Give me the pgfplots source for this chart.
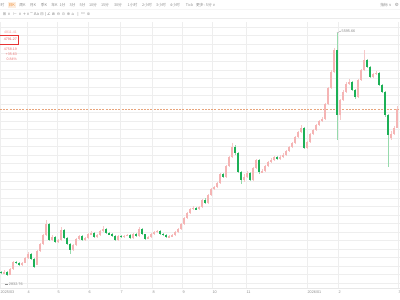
\documentclass[border=0pt]{standalone}
\usepackage{pgfplots}
\pgfplotsset{compat=1.18}
\usepackage{pgfplotstable}
\usepackage{fontspec}
\setmainfont{Liberation Sans}
\newfontfamily\cjk{Noto Sans CJK SC}
\newfontfamily\dvs{DejaVu Sans}
\definecolor{upc}{RGB}{245,180,180}
\definecolor{upw}{RGB}{246,200,200}
\definecolor{dnc}{RGB}{28,176,86}
\definecolor{dnw}{RGB}{150,218,172}
\definecolor{gridc}{RGB}{238,238,238}
\definecolor{txt}{RGB}{140,140,140}
\definecolor{ora}{RGB}{240,140,50}
\definecolor{lastc}{RGB}{232,165,125}
\definecolor{infored}{RGB}{232,90,90}
\definecolor{boxred}{RGB}{230,50,50}

\pgfplotstableread{
i O H L C
0 2880 2892 2855 2866
1 2866 2895 2858 2877
2 2877 2884 2833 2843
3 2843 2920 2838 2911
4 2911 3000 2905 2991
5 2991 3005 2972 2985
6 2985 2995 2945 2957
7 2957 2990 2950 2980
8 2980 3045 2975 3037
9 3037 3110 3030 3082
10 3082 3090 3015 3025
11 3025 3035 2920 2934
12 2960 3125 2955 3116
13 3116 3210 3100 3196
14 3196 3310 3190 3298
15 3298 3470 3290 3423
16 3423 3440 3230 3241
17 3241 3300 3225 3275
18 3275 3285 3205 3218
19 3218 3255 3210 3241
20 3241 3390 3235 3355
21 3355 3365 3250 3264
22 3264 3275 3185 3196
23 3196 3205 3080 3128
24 3128 3195 3120 3184
25 3184 3265 3175 3253
26 3253 3300 3245 3287
27 3287 3295 3230 3241
28 3241 3280 3235 3264
29 3264 3320 3255 3309
30 3309 3340 3300 3321
31 3321 3330 3265 3275
32 3275 3310 3268 3298
33 3298 3355 3290 3344
34 3344 3395 3335 3366
35 3366 3372 3310 3321
36 3321 3330 3298 3309
37 3309 3318 3278 3287
38 3287 3295 3230 3241
39 3241 3298 3235 3287
40 3287 3300 3265 3275
41 3275 3302 3268 3290
42 3290 3315 3282 3300
43 3300 3308 3255 3264
44 3264 3320 3258 3309
45 3309 3318 3278 3287
46 3287 3390 3280 3366
47 3366 3372 3300 3309
48 3309 3315 3245 3253
49 3253 3288 3248 3275
50 3275 3320 3268 3309
51 3309 3345 3300 3332
52 3332 3360 3325 3344
53 3344 3350 3300 3309
54 3309 3318 3290 3300
55 3300 3306 3268 3275
56 3275 3296 3268 3285
57 3285 3310 3278 3298
58 3298 3340 3292 3332
59 3332 3375 3325 3366
60 3366 3435 3360 3423
61 3423 3500 3415 3491
62 3491 3560 3485 3548
63 3548 3610 3540 3594
64 3594 3630 3585 3605
65 3605 3620 3578 3590
66 3590 3630 3582 3617
67 3617 3712 3610 3700
68 3700 3715 3650 3660
69 3660 3765 3655 3753
70 3753 3830 3745 3821
71 3821 3860 3810 3844
72 3844 3900 3835 3889
73 3889 4005 3880 3992
74 3992 4000 3945 3958
75 3958 4095 3950 4083
76 4083 4200 4075 4185
77 4185 4344 4175 4299
78 4299 4318 4210 4230
79 4230 4240 4000 4014
80 4014 4030 3880 3920
81 3920 3990 3905 3958
82 3958 4030 3945 4003
83 4003 4010 3910 3923
84 3923 4075 3915 4060
85 4060 4160 4050 4151
86 4151 4160 3995 4014
87 4014 4045 4000 4026
88 4026 4095 4015 4083
89 4083 4140 4070 4128
90 4128 4170 4120 4151
91 4151 4200 4140 4185
92 4185 4195 4150 4162
93 4162 4205 4155 4185
94 4185 4225 4175 4208
95 4208 4265 4200 4253
96 4253 4310 4240 4299
97 4299 4355 4290 4344
98 4344 4425 4335 4412
99 4412 4480 4400 4469
100 4469 4550 4460 4515
101 4515 4525 4275 4287
102 4287 4370 4280 4356
103 4356 4455 4345 4446
104 4446 4505 4435 4492
105 4492 4560 4480 4549
106 4549 4610 4540 4594
107 4594 4640 4585 4617
108 4617 4800 4605 4788
109 4788 4985 4780 4970
110 4970 5170 4960 5151
111 5151 5420 5140 5400
112 5400 5596 4378 4662
113 4662 4850 4600 4833
114 4833 4945 4820 4924
115 4924 5040 4910 5015
116 5015 5070 5000 5038
117 5038 5050 4930 4947
118 4947 4960 4850 4867
119 4867 5075 4860 5060
120 5060 5190 5050 5174
121 5174 5402 5165 5288
122 5288 5300 5195 5208
123 5208 5220 5080 5095
124 5095 5145 5085 5129
125 5129 5160 5118 5140
126 5140 5150 4990 5004
127 5004 5015 4910 4924
128 4924 4935 4640 4662
129 4662 4675 4071 4435
130 4400 4480 4380 4450
131 4450 4535 4440 4520
132 4520 4760 4510 4731
}\gold

\pgfplotsset{
  candle/.style 2 args={draw=none, no markers, error bars/.cd, y dir=both, y explicit, error mark=none, error bar style={draw=#1, line width=#2}},
}

\begin{document}
\begin{tikzpicture}
\useasboundingbox (0,0) rectangle (400bp,300bp);
\begin{axis}[
  at={(0bp,12bp)}, anchor=south west,
  scale only axis, width=400bp, height=266bp,
  xmin=-0.3333, xmax=133, ymin=2695.4, ymax=5719.9,
  axis line style={draw=none},
  tick style={draw=none},
  xtick={-0.3333,8.6667,18.6667,29,39.6667,50.3333,60.3333,70.3333,81.6667,102,112.3333,132.3333},
  xticklabels={2025/03,4,5,6,7,8,9,10,11,2026/01,2,3},
  ytick={2751,2848,...,5661},
  yticklabels={},
  xmajorgrids, ymajorgrids,
  grid style={gridc, line width=0.45bp},
  xticklabel style={anchor=west, inner sep=0.4bp, yshift=-4.5bp, font=\fontsize{3.8}{4}\selectfont, text=txt},
  clip mode=individual,
]
\addplot[lastc, line width=0.6bp, dash pattern=on 2bp off 1.2bp] coordinates {(-0.34,4731) (133,4731)};
% wicks
\addplot[candle={upw}{0.5bp}] table[x=i, y expr={(\thisrow{H}+\thisrow{L})/2}, y error expr={\thisrow{C}>=\thisrow{O} ? (\thisrow{H}-\thisrow{L})/2 : 0}] {\gold};
\addplot[candle={dnw}{0.5bp}] table[x=i, y expr={(\thisrow{H}+\thisrow{L})/2}, y error expr={\thisrow{C}<\thisrow{O} ? (\thisrow{H}-\thisrow{L})/2 : 0}] {\gold};
% bodies
\addplot[candle={upc}{2.2bp}] table[x=i, y expr={(\thisrow{O}+\thisrow{C})/2}, y error expr={\thisrow{C}>=\thisrow{O} ? (\thisrow{C}-\thisrow{O})/2 : 0}] {\gold};
\addplot[candle={dnc}{2.2bp}] table[x=i, y expr={(\thisrow{O}+\thisrow{C})/2}, y error expr={\thisrow{C}<\thisrow{O} ? (\thisrow{O}-\thisrow{C})/2 : 0}] {\gold};
\draw[txt, line width=0.3bp] (axis cs:112,5596) -- (axis cs:113.3,5617) node[anchor=west, inner sep=0.6bp, font=\fontsize{3.8}{4}\selectfont, text=txt] {5595.66};
\draw[txt, line width=0.3bp] (axis cs:1.3,2741) -- (axis cs:2.4,2741) node[anchor=west, inner sep=0.6bp, font=\fontsize{3.8}{4}\selectfont, text=txt] {2832.76};
\end{axis}
\begin{scope}[x=1bp,y=1bp, every node/.style={inner sep=0pt, text=txt, font=\cjk\fontsize{3.8}{4.5}\selectfont}]
\draw[black!9, line width=0.4bp] (0,12) -- (400,12);
\draw[black!8, line width=0.4bp] (0,281.5) -- (400,281.5);
\draw[black!4, line width=0.3bp] (0,291) -- (400,291);
% toolbar row 1
\node at (2.6,295) {时};
\fill[ora!15] (8,292) rectangle (15.5,298);
\node[text=ora] at (11.8,295) {日K};
\node at (22.5,295) {周K};
\node at (33,295) {月K};
\node at (44,295) {季K};
\node at (54.5,295) {年K};
\node at (62.5,295) {1分};
\node at (72.5,295) {3分};
\node at (82.5,295) {5分};
\node at (93,295) {10分};
\node at (105,295) {15分};
\node at (118,295) {30分};
\node at (132.5,295) {1小时};
\node at (147,295) {2小时};
\node at (161,295) {3小时};
\node at (175,295) {4小时};
\node at (189.5,295) {Tick};
\node[anchor=west] at (196,295) {更多: 5分 {\dvs ∨}};
\node at (386,295) {指标 {\dvs ∨}};
\node[font=\dvs\fontsize{4.5}{5}\selectfont] at (397,295) {⚙};
% toolbar row 2
\begin{scope}[every node/.style={inner sep=0pt, text=txt, font=\dvs\fontsize{4}{4.5}\selectfont}]
\node at (4.5,286) {⊞};
\node at (9,286) {∨};
\node at (15,286) {⊢};
\node at (20,286) {∨};
\node at (24.5,286) {+};
\node at (28,286) {∨};
\node at (31.5,286) {−};
\node at (36.5,286) {Aa};
\node at (42,286) {⊟};
\node at (45.5,286) {|};
\node at (49,286) {∠};
\node at (53.5,286) {⋒};
\node at (58.5,286) {⊖};
\node at (63.5,286) {⊙};
\node at (68.5,286) {⊕};
\node at (73,286) {⌂};
\node at (78,286) {|};
\node at (83,286) {▭};
\node at (88.5,286) {⊚};
\end{scope}
% info panel
\begin{scope}[every node/.style={inner sep=0pt, anchor=east, font=\fontsize{3.6}{4}\selectfont}]
\node[text=infored!60] at (17,268) {4811.41};
\node[text=infored] at (17,260.5) {4791.27};
\node[text=infored!85] at (17,251) {4758.19};
\node[text=infored!85] at (17,246) {+35.63};
\node[text=infored!85] at (17,241) {0.84\%};
\end{scope}
\draw[boxred, line width=0.8bp] (-1,256) rectangle (18.5,265);
\end{scope}
\end{tikzpicture}
\end{document}
